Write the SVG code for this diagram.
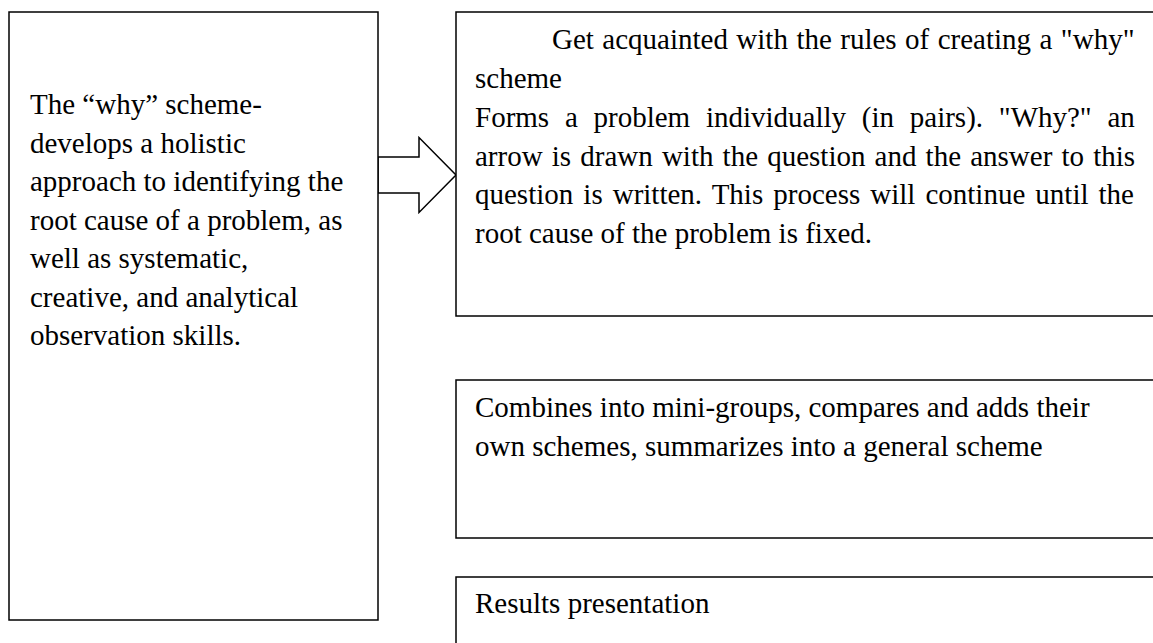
<svg xmlns="http://www.w3.org/2000/svg" width="1153" height="643" viewBox="0 0 1153 643">
  <style>
    .box { fill: #ffffff; stroke: #000000; stroke-width: 1.5; }
    .t { font-family: "Liberation Serif", "Times New Roman", serif; font-size: 29px; fill: #000000; }
  </style>
  <rect x="0" y="0" width="1153" height="643" fill="#ffffff"/>
  <g id="connectors">
    <polygon class="box" points="378,157 419,157 419,137.5 456,175 419,212.5 419,193 378,193"/>
  </g>
  <g id="node-why-scheme">
    <rect class="box" x="9" y="12" width="369" height="608"/>
    <text class="t" x="30" y="114">The “why” scheme-</text>
    <text class="t" x="30" y="152.5">develops a holistic</text>
    <text class="t" x="30" y="191">approach to identifying the</text>
    <text class="t" x="30" y="229.5">root cause of a problem, as</text>
    <text class="t" x="30" y="268">well as systematic,</text>
    <text class="t" x="30" y="306.5">creative, and analytical</text>
    <text class="t" x="30" y="345">observation skills.</text>
  </g>
  <g id="node-rules">
    <rect class="box" x="456" y="12" width="720" height="304"/>
    <text class="t" x="552" y="49" word-spacing="1.2">Get acquainted with the rules of creating a "why"</text>
    <text class="t" x="475" y="88">scheme</text>
    <text class="t" x="475" y="127" word-spacing="8.5">Forms a problem individually (in pairs). "Why?" an</text>
    <text class="t" x="475" y="165.5" word-spacing="1.9">arrow is drawn with the question and the answer to this</text>
    <text class="t" x="475" y="204" word-spacing="2.8">question is written. This process will continue until the</text>
    <text class="t" x="475" y="242.5">root cause of the problem is fixed.</text>
  </g>
  <g id="node-mini-groups">
    <rect class="box" x="456" y="380" width="720" height="158"/>
    <text class="t" x="475" y="417">Combines into mini-groups, compares and adds their</text>
    <text class="t" x="475" y="456">own schemes, summarizes into a general scheme</text>
  </g>
  <g id="node-results">
    <rect class="box" x="456" y="577" width="720" height="100"/>
    <text class="t" x="475" y="613">Results presentation</text>
  </g>
</svg>
